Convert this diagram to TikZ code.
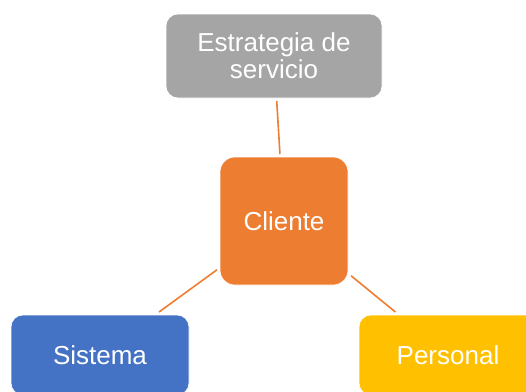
\documentclass[tikz,border=0pt]{standalone}
\usepackage{fontspec}
\setmainfont{Liberation Sans}
\usetikzlibrary{positioning}
\definecolor{grisbox}{HTML}{A5A5A5}
\definecolor{naranja}{HTML}{ED7D31}
\definecolor{azul}{HTML}{4472C4}
\definecolor{amarillo}{HTML}{FFC000}

\begin{document}
\begin{tikzpicture}[x=1pt,y=-1pt,semithick,
    box/.style={rounded corners=12pt,draw=white,line width=0.6pt,text=white,inner sep=0pt,outer sep=3pt,align=center,font=\fontsize{26}{27}\selectfont},
    link/.style={draw=naranja,line width=1.6pt}]
                \useasboundingbox (0,0) rectangle (526,391);
                \node   [box,fill=naranja,minimum width=128pt,minimum height=128pt,rounded corners=15pt]   (cli) at (284,221) {Cliente};
                \node   [box,fill=grisbox,minimum width=216pt,minimum height=84pt]    (est) at (274,56) {Estrategia de\\servicio};
                \node   [box,fill=azul,minimum width=178pt,minimum height=80pt]       (sis) at (100,355) {Sistema};
                \node   [box,fill=amarillo,minimum width=178pt,minimum height=80pt]   (per) at (448,355) {Personal};

                \path   (cli) edge [link] (est)
                (cli) edge [link] (sis)
                (cli) edge [link] (per);
            \end{tikzpicture}
\end{document}
